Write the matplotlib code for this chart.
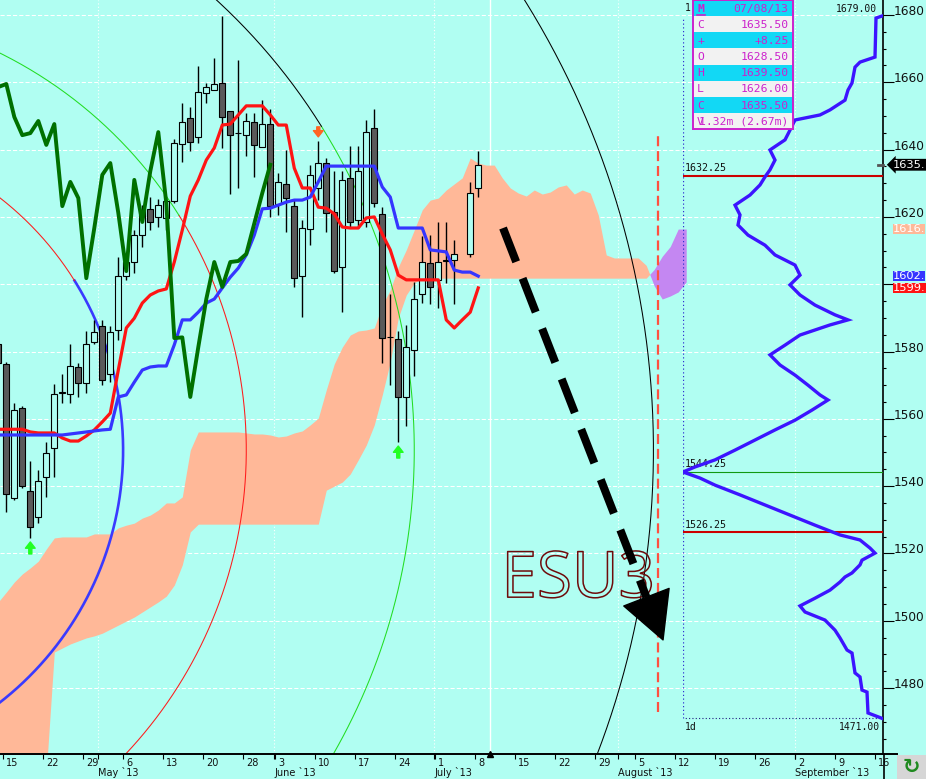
import matplotlib
matplotlib.use('Agg')
import matplotlib.pyplot as plt
import matplotlib.patheffects as pe
from matplotlib.patches import Rectangle
from matplotlib.lines import Line2D
from matplotlib.transforms import offset_copy
import numpy as np

nan = np.nan

# ---------------- data ----------------
# trading-day slots: Apr 15 2013 = 0 ... Jul 8 = 59 (slot 57 = Jul 4, no bar)
bar_idx = np.arange(-1, 60)
opens = [1582.2, 1576.3, 1536.5, 1563.2, 1538.5, 1530.8, 1542.7, 1551.3, 1567.7, 1567.4,
         1575.4, 1570.6, 1582.8, 1587.6, 1573.3, 1586.4, 1602.4, 1606.6, 1614.6, 1622.4,
         1620.0, 1619.7, 1624.7, 1641.7, 1649.4, 1643.8, 1656.8, 1657.7, 1659.8, 1651.5,
         1644.9, 1644.3, 1648.2, 1640.8, 1647.6, 1623.8, 1629.8, 1623.2, 1602.4, 1616.4,
         1628.6, 1636.0, 1621.5, 1605.1, 1631.6, 1619.1, 1618.5, 1646.4, 1620.9, 1584.3,
         1583.7, 1566.5, 1580.4, 1597.1, 1606.3, 1601.3, 1606.9, 1607.2, nan, 1609.0, 1628.5]
highs = [1584.0, 1576.9, 1564.7, 1563.8, 1547.5, 1544.8, 1553.1, 1570.3, 1573.3, 1582.2,
         1576.6, 1586.1, 1589.4, 1589.4, 1587.6, 1608.1, 1608.1, 1616.1, 1623.5, 1625.9,
         1625.3, 1625.0, 1643.2, 1653.8, 1652.7, 1664.8, 1659.8, 1667.2, 1679.7, 1651.5,
         1666.6, 1650.9, 1650.9, 1654.7, 1652.1, 1633.1, 1639.9, 1625.0, 1619.1, 1635.4,
         1642.6, 1637.5, 1633.6, 1633.6, 1641.1, 1641.1, 1648.8, 1652.1, 1622.9, 1597.1,
         1586.1, 1587.9, 1600.7, 1614.3, 1614.6, 1618.5, 1618.5, 1613.1, nan, 1630.4, 1639.5]
lows = [1574.5, 1532.3, 1535.9, 1539.4, 1524.6, 1529.0, 1536.8, 1542.7, 1564.7, 1564.7,
        1566.5, 1567.7, 1582.2, 1570.0, 1570.9, 1583.4, 1601.3, 1603.3, 1611.1, 1616.1,
        1617.0, 1616.1, 1624.1, 1636.3, 1639.6, 1642.0, 1653.8, 1657.7, 1640.5, 1626.8,
        1628.6, 1638.1, 1631.9, 1640.8, 1620.0, 1620.6, 1615.5, 1599.2, 1590.3, 1611.6,
        1625.0, 1615.5, 1603.3, 1591.7, 1617.0, 1616.7, 1617.0, 1622.9, 1576.6, 1570.0,
        1553.1, 1557.9, 1572.7, 1594.4, 1594.1, 1592.9, 1600.4, 1594.1, nan, 1608.1, 1626.0]
closes = [1576.6, 1537.7, 1562.6, 1540.0, 1527.9, 1541.5, 1549.8, 1567.4, 1567.8, 1575.7,
          1570.6, 1582.2, 1585.8, 1571.5, 1585.8, 1602.4, 1606.6, 1614.6, 1622.1, 1618.5,
          1623.5, 1624.7, 1642.0, 1648.2, 1642.3, 1657.1, 1658.6, 1659.5, 1649.7, 1644.3,
          1644.9, 1648.5, 1641.4, 1647.6, 1623.2, 1630.4, 1625.6, 1601.8, 1616.7, 1632.5,
          1636.0, 1621.2, 1603.9, 1631.0, 1618.5, 1633.6, 1645.2, 1624.1, 1584.0, 1584.2,
          1566.5, 1581.3, 1595.6, 1606.6, 1599.2, 1606.6, 1606.9, 1609.0, nan, 1627.1, 1635.5]
tenkan = [1556.9, 1556.9, 1556.9, 1556.9, 1556.1, 1555.8, 1555.8, 1555.8, 1554.3, 1553.4,
          1553.4, 1554.9, 1556.7, 1559.1, 1561.7, 1574.5, 1587.0, 1589.9, 1594.4, 1596.8,
          1598.0, 1598.6, 1606.6, 1616.1, 1626.2, 1631.0, 1636.9, 1640.5, 1647.3, 1647.6,
          1650.3, 1653.0, 1653.0, 1653.0, 1650.3, 1647.3, 1647.3, 1634.5, 1628.6, 1628.6,
          1622.9, 1622.6, 1620.9, 1617.0, 1616.7, 1616.7, 1619.7, 1620.0, 1614.9, 1610.2,
          1602.7, 1601.3, 1601.3, 1601.3, 1601.3, 1601.3, 1589.4, 1587.0, 1589.4, 1591.7, 1598.9]
kijun = [1555.2, 1555.2, 1555.2, 1555.2, 1555.2, 1555.2, 1555.2, 1555.2, 1555.2, 1555.5,
         1555.8, 1556.1, 1556.4, 1556.7, 1556.9, 1566.5, 1567.1, 1570.9, 1574.5, 1575.4,
         1575.7, 1575.7, 1582.0, 1589.4, 1589.4, 1591.7, 1594.4, 1595.6, 1598.9, 1602.1,
         1604.8, 1608.7, 1614.6, 1622.4, 1622.6, 1623.5, 1624.4, 1625.0, 1625.0, 1625.9,
         1630.4, 1635.1, 1635.1, 1635.1, 1635.1, 1635.1, 1635.1, 1635.1, 1628.9, 1625.9,
         1616.7, 1616.7, 1616.7, 1616.7, 1610.2, 1609.9, 1609.6, 1604.2, 1603.6, 1603.6, 1602.4]

cloud_idx = np.arange(-1, 86)
span_a = [1505.6, 1508.5, 1511.5, 1513.9, 1515.7, 1517.7, 1521.3, 1524.6, 1524.9, 1524.9,
          1524.9, 1524.9, 1525.8, 1525.8, 1525.8, 1527.6, 1528.4, 1529.0, 1530.5, 1531.4,
          1532.9, 1535.0, 1535.0, 1536.8, 1550.7, 1556.1, 1556.1, 1556.1, 1556.1, 1556.1,
          1556.1, 1555.8, 1555.5, 1555.5, 1555.2, 1554.6, 1554.9, 1555.8, 1556.4, 1558.2,
          1560.2, 1568.6, 1576.3, 1581.3, 1584.9, 1586.1, 1586.4, 1587.0, 1593.8, 1598.3,
          1605.1, 1610.2, 1616.1, 1622.1, 1625.0, 1625.6, 1628.0, 1629.8, 1631.6, 1637.5,
          1636.0, 1635.4, 1635.4, 1631.6, 1628.6, 1627.1, 1626.2, 1628.0, 1626.8, 1627.4,
          1628.9, 1629.5, 1626.8, 1628.0, 1627.1, 1620.6, 1608.7, 1607.8, 1607.8, 1607.8,
          1607.8, 1605.6, 1599.5, 1595.6, 1596.5, 1597.7, 1600.7]
span_b = [1455.0, 1455.0, 1455.0, 1455.0, 1455.0, 1455.0, 1455.0, 1490.7, 1491.9, 1493.1,
          1494.0, 1494.9, 1495.5, 1496.3, 1497.5, 1498.7, 1499.9, 1501.1, 1502.6, 1504.1,
          1505.6, 1507.3, 1510.6, 1516.6, 1526.4, 1528.7, 1528.7, 1528.7, 1528.7, 1528.7,
          1528.7, 1528.7, 1528.7, 1528.7, 1528.7, 1528.7, 1528.7, 1528.7, 1528.7, 1528.7,
          1528.7, 1538.8, 1540.0, 1541.2, 1543.6, 1547.8, 1552.2, 1558.2, 1567.1, 1576.9,
          1590.0, 1596.8, 1600.4, 1601.8, 1601.8, 1601.8, 1601.8, 1601.8, 1601.8, 1601.8,
          1601.8, 1601.8, 1601.8, 1601.8, 1601.8, 1601.8, 1601.8, 1601.8, 1601.8, 1601.8,
          1601.8, 1601.8, 1601.8, 1601.8, 1601.8, 1601.8, 1601.8, 1601.8, 1601.8, 1601.8,
          1601.8, 1601.8, 1604.4, 1608.3, 1611.2, 1616.4, 1616.4]

# volume profile (price level, relative volume)
prof_price = [1471.0, 1472.6, 1478.8, 1479.4, 1483.3, 1484.5, 1490.4, 1491.3, 1494.9, 1497.2,
              1500.2, 1502.6, 1504.4, 1506.7, 1509.1, 1511.5, 1513.0, 1514.2, 1516.6, 1518.0,
              1520.1, 1521.6, 1524.0, 1525.5, 1528.4, 1531.4, 1534.4, 1537.4, 1540.3, 1542.4,
              1544.2, 1545.7, 1547.8, 1550.7, 1553.7, 1556.7, 1559.6, 1562.6, 1565.6, 1567.1,
              1570.0, 1573.0, 1576.0, 1579.0, 1581.9, 1584.9, 1587.9, 1589.4, 1590.9, 1593.8,
              1596.8, 1599.8, 1602.7, 1605.7, 1608.7, 1611.6, 1614.6, 1617.6, 1620.6, 1623.5,
              1626.5, 1629.5, 1631.9, 1634.0, 1636.9, 1639.9, 1642.9, 1645.8, 1648.8, 1650.3,
              1651.8, 1654.7, 1657.7, 1659.8, 1664.5, 1666.0, 1667.5, 1679.1, 1679.7]
prof_vol = [1, 15, 16, 21, 23, 28, 31, 36, 43, 48,
            58, 78, 83, 68, 53, 43, 38, 31, 23, 21,
            8, 13, 23, 43, 68, 93, 118, 143, 168, 183,
            200, 188, 168, 148, 128, 108, 88, 71, 55, 63,
            75, 88, 103, 113, 98, 83, 53, 35, 48, 68,
            83, 93, 83, 88, 108, 118, 135, 145, 143, 148,
            133, 123, 118, 113, 108, 113, 98, 93, 88, 63,
            53, 38, 35, 31, 28, 23, 8, 7, 1]
prof_hi = 1679.00
prof_lo = 1471.00
level_prices = [1632.25, 1544.25, 1526.25]
level_colors = ['#cc0000', '#119911', '#cc0000']
level_widths = [1.5, 0.8, 1.5]

sig_idx = [3, 39, 49]
sig_up = [True, False, True]

week_idx = [0, 5, 10, 15, 20, 25, 30, 34, 39, 44, 49, 54, 59, 64, 69, 74, 79, 84, 89, 94, 99, 104, 109]
week_lab = ['15', '22', '29', '6', '13', '20', '28', '3', '10', '17', '24', '1', '8',
            '15', '22', '29', '5', '12', '19', '26', '2', '9', '16']
month_idx = [11.5, 33.5, 53.5, 76.5, 98.6]
month_lab = ['May `13', 'June `13', 'July `13', 'August `13', 'September `13']

price_ticks = list(range(1480, 1681, 20))
hidden_ticks = [1600]    # covered by the price tags on the chart

info_keys = ['M', 'C', '+', 'O', 'H', 'L', 'C', 'V']
info_vals = ['07/08/13', '1635.50', '+8.25', '1628.50', '1639.50', '1626.00', '1635.50', '1.32m (2.67m)']

tag_vals = [1616.5, 1602.5, 1599.0]
tag_cols = ['#ffb898', '#3535ff', '#ff1414']

# ---------------- figure ----------------
BG = '#b0fef2'
W, H = 926, 779
fig = plt.figure(figsize=(W / 100, H / 100), dpi=100, facecolor=BG)
ax = fig.add_axes([0, 25 / H, 883 / W, 754 / H])
ax.set_facecolor(BG)
x0, x1 = -0.79, 109.6
y0, y1 = 1460.4, 1684.46
ax.set_xlim(x0, x1)
ax.set_ylim(y0, y1)
PX_X = 883 / (x1 - x0)
PX_Y = 754 / (y1 - y0)

o = np.array(opens); h = np.array(highs); l = np.array(lows); c = np.array(closes)

# grid + month separators
ax.set_axisbelow(True)
ax.yaxis.grid(True, which='major', color='white', ls=(0, (4, 2)), lw=0.75)
ax.vlines(month_idx, y0, y1, colors='white', linestyles=(0, (1, 2)), lw=0.8, zorder=0.6)
ax.axvline(60.5, color='white', lw=1.0, zorder=0.6)

# cloud
sa = np.array(span_a); sb = np.array(span_b)
ax.fill_between(cloud_idx, sa, sb, where=sa >= sb, interpolate=True, color='#ffb898', lw=0, zorder=1)
ax.fill_between(cloud_idx, sa, sb, where=sa < sb, interpolate=True, color='#c487f2', lw=0, zorder=1)

# concentric circles (lower part / upper part colours)
cx, cy = -25.4, 1550.7
circ_r = [40.0, 55.4, 76.4, 106.3]
circ_low = ['#3a3aff', '#ff1a1a', '#22dd22', 'black']
circ_up = ['#ff1a1a', '#22dd22', 'black', 'black']
circ_lw = [1.9, 0.75, 0.75, 0.75]
for r, cl, cu, lw in zip(circ_r, circ_low, circ_up, circ_lw):
    ry = r * PX_X / PX_Y
    t1 = np.radians(np.linspace(-90, 32, 500))
    t2 = np.radians(np.linspace(32, 90, 300))
    ax.plot(cx + r * np.cos(t1), cy + ry * np.sin(t1), color=cl, lw=lw, zorder=2)
    ax.plot(cx + r * np.cos(t2), cy + ry * np.sin(t2), color=cu, lw=0.75, zorder=2)

# candles
ax.vlines(bar_idx, l, h, colors='black', lw=1.0, zorder=3)
up = c >= o
body_lo = np.minimum(o, c)
body_h = np.maximum(np.abs(c - o), 0.15)
face = np.where(up, BG, '#5a5a5a')
ax.bar(bar_idx, body_h, bottom=body_lo, width=0.74, color=list(face),
       edgecolor='black', lw=0.8, zorder=3.5)

# tenkan / kijun / chikou
ax.plot(bar_idx, tenkan, color='#ff1414', lw=2.3, zorder=4)
ax.plot(bar_idx, kijun, color='#3535ff', lw=2.3, zorder=4)
chik_x = bar_idx[:-26]
chik_y = c[26:]
ok = ~np.isnan(chik_y)
ax.plot(chik_x[ok], chik_y[ok], color='#007000', lw=2.8, zorder=4)

# signal arrows
for k, is_up in zip(sig_idx, sig_up):
    i = k + 1
    if is_up:
        tr = offset_copy(ax.transData, fig=fig, x=0, y=-4, units='dots')
        ax.annotate('', xy=(k, l[i]), xycoords=tr, xytext=(0, -12), textcoords='offset pixels',
                    arrowprops=dict(color='#22ff22', width=2.2, headwidth=7, headlength=4.5, shrink=0),
                    zorder=5)
    else:
        tr = offset_copy(ax.transData, fig=fig, x=0, y=4, units='dots')
        ax.annotate('', xy=(k, h[i]), xycoords=tr, xytext=(0, 10), textcoords='offset pixels',
                    arrowprops=dict(color='#ff6422', width=2.2, headwidth=7, headlength=4.5, shrink=0),
                    zorder=5)

# ESU3 label
ax.text(71.5, 1507.0, 'ESU3', fontsize=46, family='Open Sans', ha='center', va='baseline',
        color='none', zorder=2.2,
        path_effects=[pe.Stroke(linewidth=1.1, foreground='#6e0b0b')])

# projection arrow
a_from = (62.1, 1616.7)
a_to = (82.1, 1494.3)
dxp = (a_to[0] - a_from[0]) * PX_X
dyp = (a_to[1] - a_from[1]) * PX_Y
L = np.hypot(dxp, dyp)
head = 46
a_base = (a_to[0] - dxp / L * head / PX_X, a_to[1] - dyp / L * head / PX_Y)
ax.plot([a_from[0], a_base[0]], [a_from[1], a_base[1]], color='black', lw=5.8,
        ls=(0, (4.5, 2.2)), dash_capstyle='butt', zorder=6)
ax.annotate('', xy=a_to, xytext=a_base,
            arrowprops=dict(facecolor='black', edgecolor='black', width=0.1,
                            headwidth=35, headlength=33, shrink=0), zorder=6)

# red dashed time line
ax.vlines(81.5, 1472.9, 1644.3, colors='#ff5040', linestyles=(0, (4.5, 2.2)), lw=1.6, zorder=5)

# ---------------- axes styling ----------------
for s in ['top', 'left']:
    ax.spines[s].set_visible(False)
ax.spines['bottom'].set_linewidth(1.4)
ax.spines['right'].set_linewidth(1.2)

ax.yaxis.tick_right()
ax.set_yticks(price_ticks, ['' if t in hidden_ticks else str(t) for t in price_ticks])
ax.set_yticks(np.arange(1465, 1685, 5), minor=True)
ax.tick_params(axis='y', which='major', direction='out', length=7.7, width=0.8, pad=0.3,
               labelsize=8.7, labelcolor='#111111', labelright=True, labelleft=False)
ax.tick_params(axis='y', which='minor', direction='out', length=2.5, width=0.8)
for lab in ax.get_yticklabels():
    lab.set_va('baseline')

ax.set_xticks(list(np.array(week_idx) - 0.375) + month_idx)
ax.tick_params(axis='x', direction='out', length=3.6, width=0.8, labelbottom=False)
for k, lab in zip(week_idx, week_lab):
    ax.annotate(lab, xy=(k - 0.375, 0), xycoords=('data', 'axes fraction'), xytext=(3, -4),
                textcoords='offset pixels', ha='left', va='top', fontsize=7, color='#111111',
                annotation_clip=False)
for k, lab in zip(month_idx, month_lab):
    ax.annotate(lab, xy=(k, 0), xycoords=('data', 'axes fraction'), xytext=(0, -13),
                textcoords='offset pixels', ha='left', va='top', fontsize=7, color='#111111',
                annotation_clip=False)
ax.plot(60.5, 0, marker='^', color='black', ms=5, transform=ax.get_xaxis_transform(),
        clip_on=False, zorder=7)

# right price tags (shown truncated, as on the chart)
for v, col in zip(tag_vals, tag_cols):
    ax.annotate(f'{v:.2f}'[:5], xy=(1, v), xycoords=('axes fraction', 'data'), xytext=(10, 0),
                textcoords='offset pixels', ha='left', va='center', fontsize=8.2, color='white',
                bbox=dict(boxstyle='square,pad=0.0', fc=col, ec='none'), annotation_clip=False,
                zorder=8)
last_close = c[-1]
ax.annotate(f'{last_close:.2f}'[:5], xy=(1, last_close), xycoords=('axes fraction', 'data'),
            xytext=(10, 0), textcoords='offset pixels', ha='left', va='center', fontsize=8.2,
            color='white', bbox=dict(boxstyle='larrow,pad=0.08', fc='black', ec='none'),
            annotation_clip=False, zorder=8)
ax.plot([1 - 5 / 883, 1], [last_close, last_close], transform=ax.get_yaxis_transform(),
        color='#555555', lw=2, clip_on=False, zorder=7)

# spine extensions and corner button
fig.add_artist(Line2D([883.5 / W, 883.5 / W], [0, 25 / H], color='black', lw=1.2))
fig.add_artist(Line2D([883 / W, 897 / W], [25 / H, 25 / H], color='black', lw=1.4))
fig.add_artist(Rectangle((897 / W, 0), 29 / W, 24 / H, transform=fig.transFigure,
                         facecolor='#d6d6d6', edgecolor='none'))
fig.text(911 / W, 12 / H, '\u21bb', color='#1f8a1f', fontsize=15, fontweight='bold',
         ha='center', va='center')

# ---------------- volume profile ----------------
axp = fig.add_axes([683 / W, 25 / H, 200 / W, 754 / H], sharey=ax)
axp.set_xlim(200, 0)
axp.patch.set_alpha(0)
axp.axis('off')
for lv, lc, lw in zip(level_prices, level_colors, level_widths):
    axp.axhline(lv, color=lc, lw=lw, zorder=1)
    axp.text(198, lv + 0.8, f'{lv:.2f}', ha='left', va='bottom', fontsize=7.2,
             family='DejaVu Sans Mono', color='#111111', zorder=1)
axp.plot(prof_vol, prof_price, color='#3c14ff', lw=2.4, solid_joinstyle='miter', zorder=3)
axp.vlines(200, prof_lo, prof_hi, colors='#3030d0', linestyles=(0, (1, 2)), lw=0.9)
axp.hlines(prof_lo, 0, 200, colors='#202080', linestyles=(0, (1, 2)), lw=0.8)
axp.text(6, prof_hi + 1.2, f'{prof_hi:.2f}', ha='right', va='bottom', fontsize=7,
         family='DejaVu Sans Mono', color='#111111')
axp.text(3, prof_lo - 1.0, f'{prof_lo:.2f}', ha='right', va='top', fontsize=7,
         family='DejaVu Sans Mono', color='#111111')
axp.text(198, prof_lo - 1.0, '1d', ha='left', va='top', fontsize=7,
         family='DejaVu Sans Mono', color='#111111')
fig.text(685 / W, 1 - 8 / H, '1', fontsize=7, va='center', family='DejaVu Sans Mono', color='#111111')

# ---------------- info box ----------------
MAG = '#cc22cc'
axi = fig.add_axes([693 / W, 1 - 129 / H, 100 / W, 129 / H])
axi.set_xlim(0, 1)
axi.set_ylim(len(info_keys), 0)
for i, (kk, vv) in enumerate(zip(info_keys, info_vals)):
    axi.axhspan(i, i + 1, color='#12d8f5' if i % 2 == 0 else '#f2f2f2', lw=0)
    axi.text(0.04, i + 0.55, kk, ha='left', va='center', fontsize=8.2, color=MAG,
             family='DejaVu Sans Mono', fontweight='bold' if i == 0 else 'normal')
    axi.text(0.955, i + 0.55, vv, ha='right', va='center', fontsize=8.2, color=MAG,
             family='DejaVu Sans Mono')
axi.plot([0.035, 0.115], [0.9, 0.9], color=MAG, lw=1.2)
axi.set_xticks([])
axi.set_yticks([])
for s in axi.spines.values():
    s.set_color(MAG)
    s.set_linewidth(1.4)

fig.savefig('out.png', dpi=100, facecolor=BG)
